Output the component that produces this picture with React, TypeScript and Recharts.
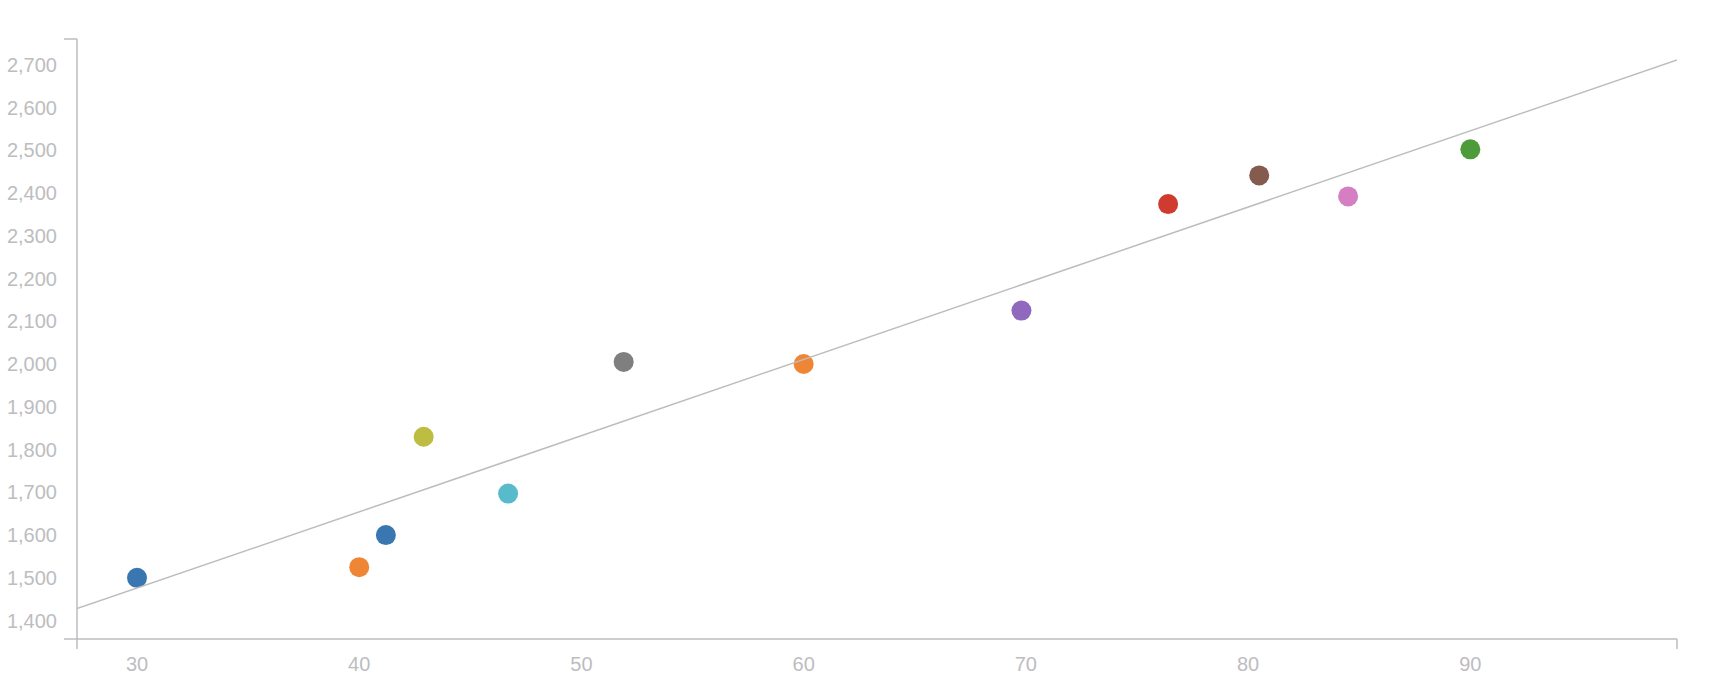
import React from "react";
import { ScatterChart, Scatter, XAxis, YAxis, Cell } from "recharts";

const xValues = [30, 40, 41.2, 42.9, 46.7, 51.9, 60, 69.8, 76.4, 80.5, 84.5, 90];
const yValues = [1500, 1525, 1600, 1830, 1697, 2005, 2000, 2125, 2374, 2441, 2392, 2502];
const pointColors = [
  "#3a77b0", "#ef8636", "#3a77b0", "#bdbd41", "#58bbcc", "#7f7f7f",
  "#ef8636", "#9068be", "#d03b2f", "#855b4f", "#d57fc2", "#4e9b3c",
];
const trendX = [27.3, 99.3];
const trendY = [1428, 2711];
const xDomain = [27.3, 99.3];
const yDomain = [1357, 2760];
const xTickLabels = [30, 40, 50, 60, 70, 80, 90];
const yTickLabels = [1400, 1500, 1600, 1700, 1800, 1900, 2000, 2100, 2200, 2300, 2400, 2500, 2600, 2700];

const points = xValues.map((x, i) => ({ x, y: yValues[i] }));
const trend = trendX.map((x, i) => ({ x, y: trendY[i] }));

const AXIS = "#babdc1";
const LABEL = "#bdbdbf";
const FONT = "'Liberation Sans', Arial, sans-serif";

const YTick = (props: any) => {
  const { x, y, payload } = props;
  const v = payload.value;
  if (v === yDomain[0] || v === yDomain[1]) {
    return <line x1={x - 13} y1={y} x2={x} y2={y} stroke={AXIS} strokeWidth={1.5} />;
  }
  return (
    <text x={x - 20} y={y} dy="0.355em" textAnchor="end" fill={LABEL} fontSize={20} fontFamily={FONT}>
      {Number(v).toLocaleString("en-US")}
    </text>
  );
};

const XTick = (props: any) => {
  const { x, y, payload } = props;
  const v = payload.value;
  if (v === xDomain[0] || v === xDomain[1]) {
    return <line x1={x} y1={y} x2={x} y2={y + 10} stroke={AXIS} strokeWidth={1.5} />;
  }
  return (
    <text x={x} y={y + 18} dy="0.71em" textAnchor="middle" fill={LABEL} fontSize={20} fontFamily={FONT}>
      {v}
    </text>
  );
};

const Dot = (props: any) => {
  const { cx, cy, fill } = props;
  return <circle cx={cx} cy={cy} r={10} fill={fill} />;
};

export default function App() {
  return (
    <div style={{ position: "absolute", left: 0, top: 0, background: "#fff" }}>
      <ScatterChart width={1716} height={690} margin={{ top: 39, right: 39, bottom: 21, left: 17 }}>
        <XAxis
          type="number"
          dataKey="x"
          domain={xDomain}
          ticks={[xDomain[0], ...xTickLabels, xDomain[1]]}
          interval={0}
          allowDataOverflow
          height={30}
          stroke={AXIS}
          axisLine={{ stroke: AXIS, strokeWidth: 1.5 }}
          tickLine={false}
          tickSize={0}
          tickMargin={0}
          tick={<XTick />}
        />
        <YAxis
          type="number"
          dataKey="y"
          domain={yDomain}
          ticks={[yDomain[0], ...yTickLabels, yDomain[1]]}
          interval={0}
          allowDataOverflow
          width={60}
          axisLine={{ stroke: AXIS, strokeWidth: 1.5 }}
          tickLine={false}
          tickSize={0}
          tickMargin={0}
          tick={<YTick />}
        />
        <Scatter data={points} isAnimationActive={false} shape={<Dot />}>
          {points.map((_, i) => (
            <Cell key={i} fill={pointColors[i]} />
          ))}
        </Scatter>
        <Scatter
          data={trend}
          isAnimationActive={false}
          line={{ stroke: "#bdbdbd", strokeWidth: 1.5 }}
          lineType="joint"
          shape={() => <g />}
        />
      </ScatterChart>
    </div>
  );
}
